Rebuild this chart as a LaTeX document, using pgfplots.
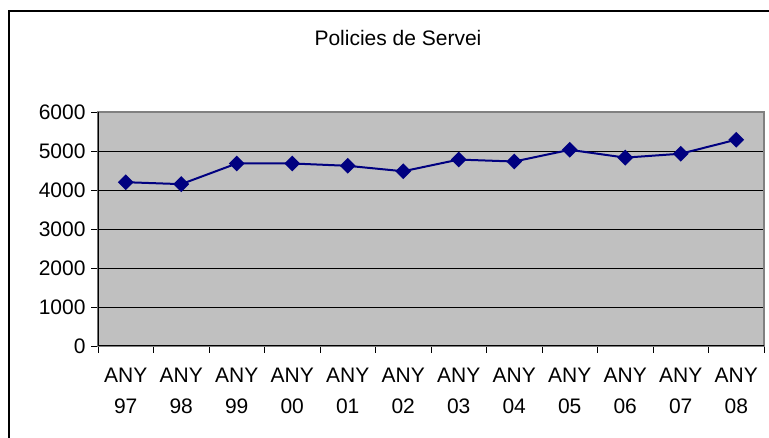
\documentclass[border=0pt]{standalone}
\usepackage{pgfplots}
\pgfplotsset{compat=1.18}
\usepackage{fontspec}
\setmainfont{Liberation Sans}

\definecolor{plotbg}{HTML}{C0C0C0}
\definecolor{series}{HTML}{000080}

\begin{document}
\begin{tikzpicture}[x=1pt,y=1pt]
\begin{axis}[
    at={(98pt,92pt)}, anchor=south west,
    scale only axis,
    width=666pt, height=234pt,
    xmin=-0.5, xmax=11.5,
    ymin=0, ymax=6000,
    ytick={0,1000,...,6000},
    xtick={-0.5,0.5,...,11.5},
    xticklabels={},
    extra x ticks={0,1,...,11},
    extra x tick labels={{ANY\\97},{ANY\\98},{ANY\\99},{ANY\\00},{ANY\\01},{ANY\\02},
        {ANY\\03},{ANY\\04},{ANY\\05},{ANY\\06},{ANY\\07},{ANY\\08}},
    extra x tick style={major tick length=0pt, grid=none},
    xticklabel style={align=center, font=\fontsize{21}{31}\selectfont, yshift=-19pt},
    yticklabel style={font=\fontsize{21}{24}\selectfont, xshift=-2pt},
    /pgf/number format/assume math mode=true,
    /pgf/number format/set thousands separator={},
    tick align=outside, tick pos=left,
    major tick length=7pt,
    tick style={black, line width=0.8pt},
    ymajorgrids,
    grid style={black, line width=0.9pt},
    axis line style={draw=gray, line width=1.5pt},
    axis background/.style={fill=plotbg},
]
\addplot[series, line width=2pt, mark=square*, mark size=4.6pt,
    mark options={rotate=45, fill=series}]
    coordinates {
    (0,4200)(1,4150)(2,4680)(3,4680)(4,4620)(5,4480)
    (6,4780)(7,4730)(8,5030)(9,4830)(10,4930)(11,5290)
    };
\draw[black, line width=1.2pt] (rel axis cs:0,1) -- (rel axis cs:0,0) -- (rel axis cs:1,0);
\end{axis}
\node[anchor=base, font=\fontsize{21}{24}\selectfont] at (398pt,392pt) {Policies de Servei};
\draw[black, line width=2pt] (9pt,-20pt) rectangle (790pt,426.5pt);
\pgfresetboundingbox
\path[use as bounding box] (0,0) rectangle (769pt,438pt);
\end{tikzpicture}
\end{document}
